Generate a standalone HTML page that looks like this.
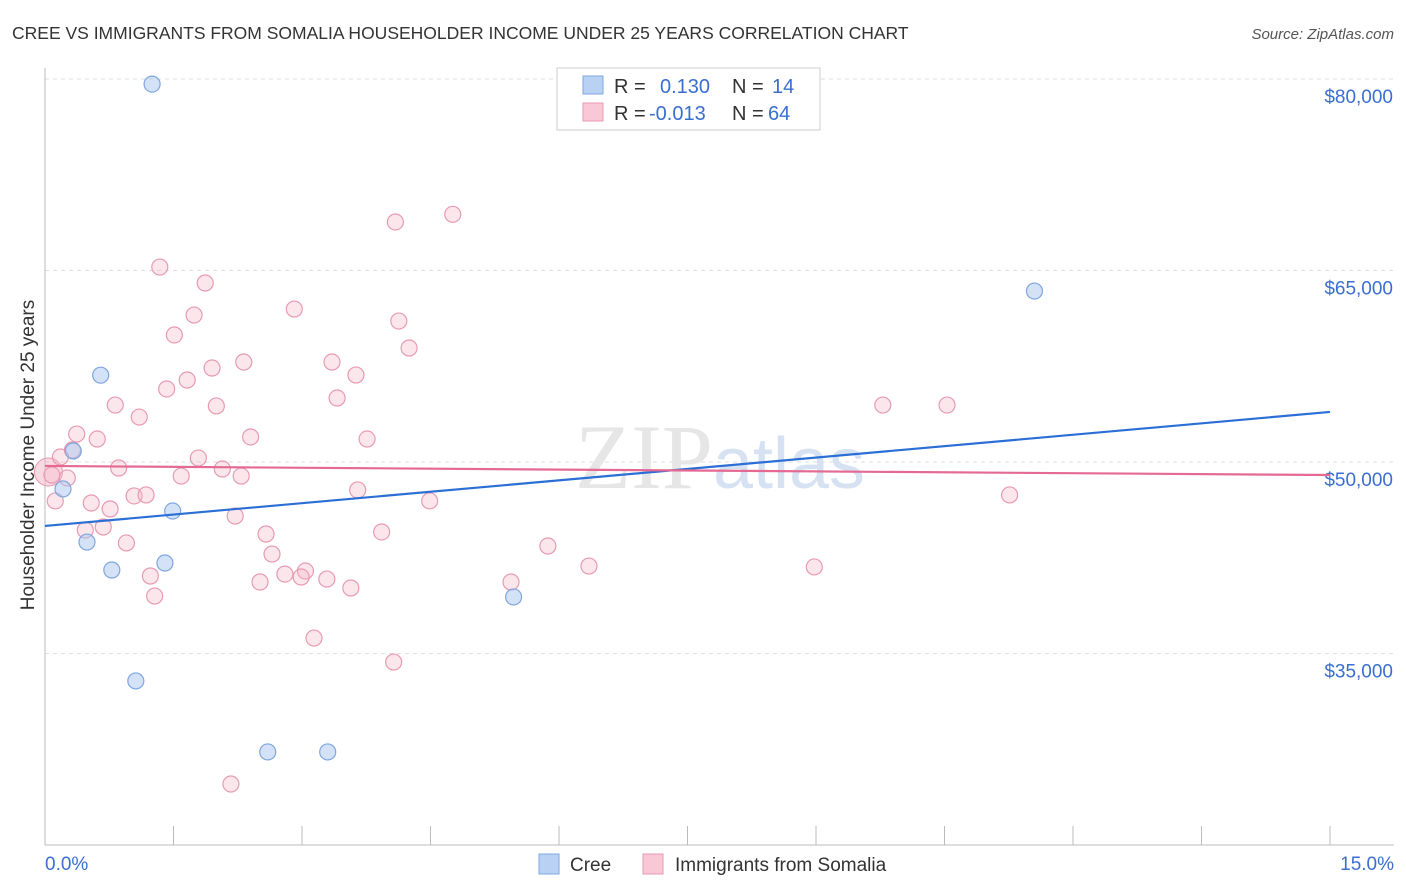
<!DOCTYPE html>
<html><head><meta charset="utf-8"><style>
body{margin:0;background:#fff;font-family:"Liberation Sans",sans-serif;}
svg{display:block}
</style></head><body>
<svg id="chart" width="1406" height="892">
<text x="12" y="39" font-size="17.5" fill="#333">CREE VS IMMIGRANTS FROM SOMALIA HOUSEHOLDER INCOME UNDER 25 YEARS CORRELATION CHART</text>
<text x="1394" y="39" font-size="15" fill="#555" font-style="italic" text-anchor="end">Source: ZipAtlas.com</text>
<g id="grid"></g>
<text x="720" y="488" font-size="92" fill="#e6e6e6" text-anchor="middle" font-family="Liberation Serif">ZIP<tspan fill="#d6e2f2" font-family="Liberation Sans" font-size="72">atlas</tspan></text>
<g id="axes"></g>
<g id="marks"></g>
<text transform="translate(34,455) rotate(-90)" font-size="19" fill="#333" text-anchor="middle">Householder Income Under 25 years</text>
<g>
<rect x="557" y="68" width="263" height="62" fill="#fff" stroke="#ccc"/>
<rect x="583" y="76" width="20" height="18" fill="#b9d2f4" stroke="#7ea6e0"/>
<rect x="583" y="103" width="20" height="18" fill="#f9c8d6" stroke="#e89ab2"/>
<text x="614" y="93" font-size="20" fill="#333">R = </text><text x="660" y="93" font-size="20" fill="#3a6fcf">0.130</text>
<text x="732" y="93" font-size="20" fill="#333">N = </text><text x="772" y="93" font-size="20" fill="#3a6fcf">14</text>
<text x="614" y="120" font-size="20" fill="#333">R = </text><text x="649" y="120" font-size="20" fill="#3a6fcf">-0.013</text>
<text x="732" y="120" font-size="20" fill="#333">N = </text><text x="768" y="120" font-size="20" fill="#3a6fcf">64</text>
</g>
<g>
<rect x="539" y="854" width="20" height="20" fill="#b9d2f4" stroke="#7ea6e0"/>
<text x="570" y="871" font-size="19" fill="#333">Cree</text>
<rect x="643" y="854" width="20" height="20" fill="#f9c8d6" stroke="#e89ab2"/>
<text x="675" y="871" font-size="19" fill="#333">Immigrants from Somalia</text>
</g>
</svg>
<script>
const yTicks=[35000,50000,65000,80000];
const yTickLabels=["$35,000","$50,000","$65,000","$80,000"];
const xTickLabels=["0.0%","15.0%"];
const creeX=[1.25,0.65,0.33,0.21,0.49,0.78,1.40,1.49,1.06,2.60,3.30,5.47,11.55];
const creeY=[79600,56800,50860,47890,43730,41540,42090,46160,32850,27290,27290,39430,63390];
const somX=[4.76,4.09,1.34,1.87,2.91,1.74,4.13,1.51,4.25,2.32,3.35,1.95,3.63,1.66,1.42,3.41,0.82,2.00,9.78,10.53,1.10,0.37,0.61,2.40,3.76,0.32,0.18,1.79,0.86,2.07,1.59,2.29,0.26,0.08,3.65,1.04,1.18,0.54,0.12,4.49,0.76,2.22,11.26,0.47,0.68,3.93,2.58,0.95,5.87,2.65,6.35,8.98,1.23,3.04,2.80,2.99,3.29,2.51,3.57,5.44,1.28,3.14,4.07,2.17];
const somY=[69400,68800,65270,64020,61980,61510,61040,59950,58930,57830,57830,57360,56810,56420,55720,55010,54460,54390,54460,54460,53520,52190,51800,51960,51800,50940,50390,50310,49530,49450,48900,48900,48750,48980,47810,47340,47420,46790,46950,46950,46320,45770,47420,44670,44910,44520,44360,43660,43420,42790,41850,41780,41070,41460,41220,40990,40830,40600,40130,40600,39500,36210,34330,24780];
const creeTrend=[44990,53920];
const somTrend=[49690,48980];
const NS="http://www.w3.org/2000/svg";
const X=v=>45+v*(1285/15);
const Y=v=>462+(50000-v)*0.012767;
function mk(tag,attrs,parent){const e=document.createElementNS(NS,tag);for(const k in attrs)e.setAttribute(k,attrs[k]);document.getElementById(parent).appendChild(e);return e;}
yTicks.forEach((t,i)=>{
 const l=mk('line',{x1:45,x2:1394,y1:Y(t),y2:Y(t),stroke:'#ddd','stroke-dasharray':'4,4'},'grid');
 
 
 const tx=mk('text',{x:1393,y:Y(t)+24,'font-size':19,fill:'#3a6fcf','text-anchor':'end'},'axes');
 tx.textContent=yTickLabels[i];
 
 
});
const ax=mk('line',{x1:45,x2:45,y1:68,y2:845,stroke:'#bbb'},'axes');


const bx=mk('line',{x1:45,x2:1394,y1:845,y2:845,stroke:'#bbb'},'axes');


for(let i=0;i<=10;i++){const v=i*1.5;const t=mk('line',{x1:X(v),x2:X(v),y1:826,y2:845,stroke:'#bbb'},'axes');
 
 }
[[0,'start',45],[15,'end',1394]].forEach((a,i)=>{const t=mk('text',{x:a[2],y:870,'font-size':19,fill:'#3a6fcf','text-anchor':a[1]},'axes');t.textContent=xTickLabels[i];
 
 });
const big=mk('circle',{cx:X(0.04),cy:Y(49220),r:14,fill:'rgba(244,182,200,0.5)',stroke:'#e89ab2'},'marks');


somX.forEach((x,i)=>{const c=mk('circle',{cx:X(x),cy:Y(somY[i]),r:8,fill:'rgba(244,182,200,0.35)',stroke:'#e89ab2','stroke-width':1.2},'marks');
 
 });
creeX.forEach((x,i)=>{const c=mk('circle',{cx:X(x),cy:Y(creeY[i]),r:8,fill:'rgba(169,198,240,0.5)',stroke:'#7ea6e0','stroke-width':1.2},'marks');
 
 });
const l1=mk('line',{x1:X(0),y1:Y(creeTrend[0]),x2:X(15),y2:Y(creeTrend[1]),stroke:'#2b6fd6','stroke-width':2.2},'marks');


const l2=mk('line',{x1:X(0),y1:Y(somTrend[0]),x2:X(15),y2:Y(somTrend[1]),stroke:'#e46a93','stroke-width':2.2},'marks');


</script>
</body></html>
